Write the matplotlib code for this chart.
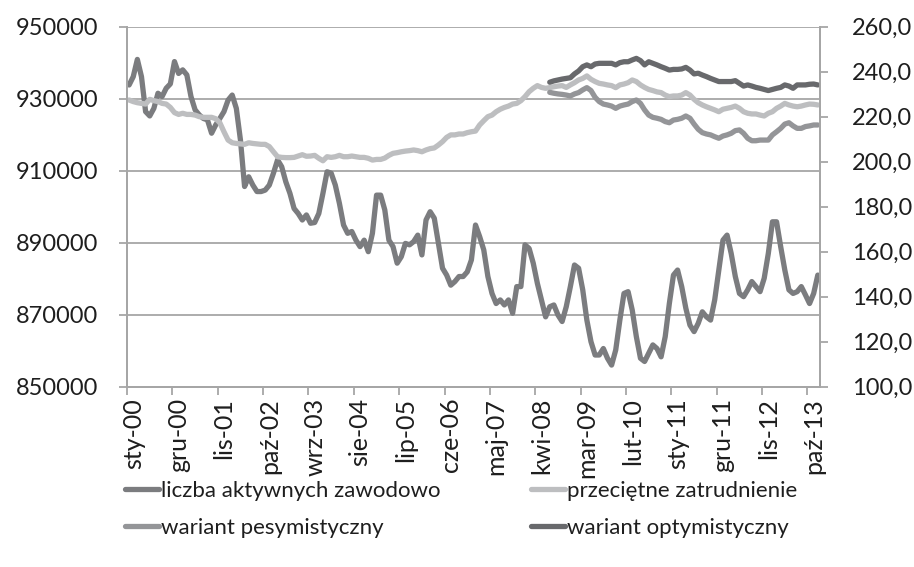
import matplotlib.pyplot as plt
import numpy as np

plt.rcParams['font.family'] = ['Lato', 'DejaVu Sans']

miesiace = ["sty", "lut", "mar", "kwi", "maj", "cze", "lip", "sie", "wrz", "paź", "lis", "gru"]
etykiety = [m + "-%02d" % r for r in range(0, 14) for m in miesiace]

# liczba aktywnych zawodowo (lewa oś)
aktywni = [
    933800, 936100, 940900, 936100, 926400, 925200, 927300, 931500, 930600, 932900,
    934100, 940300, 937000, 938000, 936600, 930600, 926900, 925500, 924500, 924100,
    920400, 922700, 924500, 926400, 929600, 931000, 927300, 918500, 905600, 908300,
    906000, 904200, 904200, 904600, 906000, 909300, 913000, 911100, 906900, 903700,
    899500, 898100, 896300, 897700, 895400, 895600, 898100, 903700, 909700, 909300,
    906000, 900900, 894900, 892600, 893100, 890700, 888900, 890700, 887500, 892600,
    903200, 903200, 899100, 890700, 888900, 884300, 886100, 889800, 889400, 890300,
    892100, 886600, 896300, 898600, 896800, 889800, 882900, 881000, 878200, 879200,
    880600, 880600, 881900, 885200, 894900, 891700, 888000, 880600, 875900, 873100,
    874100, 872700, 874100, 870400, 877800, 877800, 889400, 888400, 884300, 878700,
    874100, 869400, 872200, 872700, 869900, 868100, 872200, 877800, 883800, 882900,
    876900, 868500, 862500, 858800, 858800, 860600, 857900, 856000, 860200, 868500,
    875900, 876400, 871300, 863900, 857900, 857000, 859300, 861600, 860600, 858300,
    863900, 873100, 881000, 882400, 877800, 871800, 867100, 865300, 867600, 870800,
    869400, 868500, 874100, 882400, 890700, 892100, 887000, 880600, 875900, 875000,
    876900, 879200, 877800, 876400, 880100, 887000, 895800, 895800, 888900, 882400,
    876900, 875900, 876400, 877800, 875500, 873100, 875900, 881000,
]

# przeciętne zatrudnienie (prawa oś)
zatrudnienie = [
    227.4, 226.7, 226.2, 225.9, 225.6, 227.7, 227.1, 226.7, 225.9, 225.6,
    224.1, 221.8, 221.0, 221.5, 221.0, 221.0, 220.7, 220.0, 219.7, 219.7,
    219.7, 219.1, 217.3, 213.3, 209.6, 208.4, 208.1, 207.9, 207.7, 208.4,
    208.1, 207.9, 207.7, 207.7, 206.7, 204.4, 202.2, 201.9, 201.8, 201.8,
    201.9, 202.5, 203.1, 202.4, 202.5, 202.8, 201.5, 200.4, 202.2, 201.9,
    202.2, 202.8, 202.2, 202.2, 202.5, 202.2, 201.9, 201.9, 201.5, 200.7,
    201.0, 201.0, 201.6, 202.8, 203.7, 204.0, 204.4, 204.7, 204.9, 205.2,
    204.9, 204.4, 205.2, 205.8, 206.1, 207.4, 208.9, 210.8, 211.9, 211.9,
    212.3, 212.3, 212.9, 213.3, 213.6, 216.3, 218.2, 220.0, 220.7, 222.2,
    223.3, 224.1, 224.7, 225.6, 225.9, 227.1, 228.9, 231.1, 232.6, 233.8,
    233.0, 232.6, 232.9, 233.3, 233.6, 233.8, 233.0, 234.1, 235.1, 236.3,
    237.0, 238.1, 236.6, 235.6, 234.8, 234.5, 234.1, 233.8, 232.9, 234.1,
    234.5, 235.1, 236.3, 235.6, 234.1, 233.0, 232.1, 231.6, 231.0, 230.7,
    229.6, 228.9, 229.2, 229.2, 229.6, 230.7, 229.6, 227.7, 226.2, 225.2,
    224.4, 223.7, 223.0, 222.2, 223.3, 223.7, 224.1, 224.7, 223.7, 222.2,
    221.5, 221.2, 221.2, 220.7, 220.3, 221.5, 222.2, 223.7, 224.7, 225.9,
    225.2, 224.7, 224.4, 224.7, 225.2, 225.6, 225.5, 225.2,
]

# warianty prognozy od lip-08
start_wariantow = "lip-08"
pesymistyczny = [
    230.8, 230.4, 230.1, 229.9, 229.6, 229.2, 230.1, 230.7, 231.9, 232.9,
    231.6, 228.6, 226.7, 225.6, 225.2, 224.7, 223.7, 224.7, 225.2, 225.6,
    226.7, 227.4, 225.9, 223.0, 220.7, 219.7, 219.3, 218.8, 217.8, 217.3,
    218.5, 218.8, 219.3, 220.3, 219.3, 216.7, 214.4, 212.9, 212.3, 211.9,
    211.1, 210.4, 211.4, 211.9, 212.6, 213.8, 214.1, 212.6, 210.4, 209.3,
    209.3, 209.6, 209.6, 209.6, 211.9, 213.3, 214.8, 216.7, 217.3, 215.9,
    214.8, 214.8, 215.6, 215.9, 216.3, 216.3,
]
optymistyczny = [
    235.3, 235.9, 236.3, 236.7, 237.0, 237.3, 239.0, 240.3, 242.2, 243.0,
    242.2, 243.4, 243.7, 243.7, 243.7, 243.7, 243.0, 244.0, 244.4, 244.4,
    245.2, 245.9, 244.9, 243.0, 244.4, 243.7, 243.0, 242.2, 241.5, 240.7,
    241.0, 241.0, 241.2, 241.9, 240.7, 239.0, 239.3, 238.5, 237.8, 237.0,
    236.3, 235.6, 235.6, 235.6, 235.6, 236.0, 234.8, 233.6, 234.1, 233.6,
    233.0, 232.6, 232.1, 231.6, 232.1, 232.6, 233.0, 234.1, 233.6, 232.6,
    234.1, 234.1, 234.1, 234.4, 234.5, 234.1,
]

x = np.arange(len(etykiety))
s = etykiety.index(start_wariantow)
xw = x[s:s + len(optymistyczny)]

szary = "#a6a6a6"
tekst = "#1e1e1e"
fig = plt.figure(figsize=(9.14, 5.67), dpi=100)
ax = fig.add_axes([0.139, 0.318, 0.758, 0.635])
ax2 = ax.twinx()

lw = 3.8
l1, = ax.plot(x, aktywni, color="#7b7c7f", lw=lw, solid_capstyle="round",
              label="liczba aktywnych zawodowo")
l2, = ax2.plot(x, zatrudnienie, color="#bdbec0", lw=lw, solid_capstyle="round",
               label="przeciętne zatrudnienie")
l3, = ax2.plot(xw, pesymistyczny, color="#949598", lw=lw, solid_capstyle="round",
               label="wariant pesymistyczny")
l4, = ax2.plot(xw, optymistyczny, color="#68696c", lw=lw, solid_capstyle="round",
               label="wariant optymistyczny")

ax.set_xlim(-0.5, len(etykiety) - 0.5)
ax.set_ylim(850000, 950000)
ax.set_yticks(range(850000, 950001, 20000))
ax.set_yticklabels([str(v) for v in range(850000, 950001, 20000)])
ax2.set_ylim(100, 260)
ax2.set_yticks(range(100, 261, 20))
ax2.set_yticklabels(["%d,0" % v for v in range(100, 261, 20)])

# etykiety lekko na prawo od kresek, jak w Excelu
ax.set_xticks(x[::11] + 1)
ax.set_xticklabels(etykiety[::11])
ax.set_xticks(x[::11] - 0.5, minor=True)

ax.grid(axis="y", color=szary, lw=1.3)
ax.set_axisbelow(True)
for a in (ax, ax2):
    a.spines["top"].set_visible(False)
    for sp in ("left", "right", "bottom"):
        a.spines[sp].set_color(szary)
        a.spines[sp].set_linewidth(1.3)
ax.tick_params(axis="y", length=6, width=1.3, color=szary, labelsize=17, pad=15, labelcolor=tekst)
ax2.tick_params(axis="y", length=6, width=1.3, color=szary, labelsize=17, pad=17, labelcolor=tekst)
ax.tick_params(axis="x", which="major", length=0, labelsize=18, pad=8,
               labelrotation=90, labelcolor=tekst)
ax.tick_params(axis="x", which="minor", length=6, width=1.3, color=szary)

fig.legend(handles=[l1, l3, l2, l4], ncol=2, loc="upper left",
           bbox_to_anchor=(0.137, 0.152), frameon=False, fontsize=16,
           handlelength=1.5, handletextpad=0.1, columnspacing=4.1,
           labelspacing=0.78, borderaxespad=0, borderpad=0, labelcolor=tekst)

fig.savefig("out.png", dpi=100)
